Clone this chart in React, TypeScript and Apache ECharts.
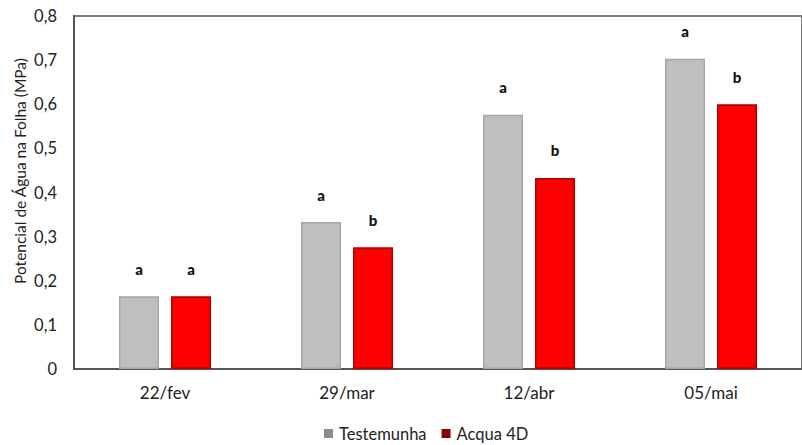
import React, { useEffect, useRef } from "react";
import * as echarts from "echarts";

const categories = ["22/fev", "29/mar", "12/abr", "05/mai"];
const testemunha = [0.165, 0.333, 0.576, 0.703];
const acqua4d = [0.165, 0.276, 0.433, 0.6];
const testemunhaLetters = ["a", "a", "a", "a"];
const acquaLetters = ["a", "b", "b", "b"];
const yTicks = [0, 0.1, 0.2, 0.3, 0.4, 0.5, 0.6, 0.7, 0.8];
const yTitle = "Potencial de Água na Folha (MPa)";

const FONT = "Lato, 'Open Sans', sans-serif";

export default function App() {
  const ref = useRef<HTMLDivElement>(null);

  useEffect(() => {
    if (!ref.current) return;
    const chart = echarts.init(ref.current, undefined, { renderer: "svg" });

    const letterLabel = (letters: string[]) => ({
      show: true,
      position: "top" as const,
      distance: 20,
      formatter: (p: any) => letters[p.dataIndex],
      fontFamily: FONT,
      fontWeight: 900,
      fontSize: 15,
      color: "#111",
    });

    chart.setOption({
      animation: false,
      backgroundColor: "#fff",
      textStyle: { fontFamily: FONT },
      grid: {
        left: 74,
        right: 0,
        top: 16,
        bottom: 76,
        show: true,
        borderColor: "#7a7a7a",
        borderWidth: 2,
      },
      graphic: [
        {
          type: "text",
          x: 20,
          y: 171,
          rotation: Math.PI / 2,
          style: {
            text: yTitle,
            fontFamily: FONT,
            fontSize: 15.5,
            fill: "#222",
            align: "center",
            verticalAlign: "middle",
          },
        },
      ],
      legend: {
        top: 425,
        left: 324,
        padding: 0,
        itemWidth: 9,
        itemHeight: 9,
        itemGap: 15,
        icon: "rect",
        textStyle: { fontFamily: FONT, fontSize: 16.5, color: "#222", padding: [0, 0, 0, 1] },
        data: [
          { name: "Testemunha", itemStyle: { color: "#8c8c8c", borderWidth: 0 } },
          { name: "Acqua 4D", itemStyle: { color: "#8b0000", borderWidth: 0 } },
        ],
      },
      xAxis: {
        type: "category",
        data: categories,
        axisLine: { lineStyle: { color: "#555", width: 2 } },
        axisTick: { show: false },
        axisLabel: { fontFamily: FONT, fontSize: 17, color: "#222", margin: 15 },
      },
      yAxis: {
        type: "value",
        min: 0,
        max: 0.8,
        interval: 0.1,
        axisLine: { show: true, lineStyle: { color: "#555", width: 2 } },
        axisTick: { show: false },
        splitLine: { show: false },
        axisLabel: {
          fontFamily: FONT,
          fontSize: 16.5,
          color: "#222",
          margin: 17,
          formatter: (v: number) => {
            const t = yTicks.find((x) => Math.abs(x - v) < 1e-9);
            const val = t === undefined ? v : t;
            return val === 0 ? "0" : val.toFixed(1).replace(".", ",");
          },
        },
      },
      series: [
        {
          name: "Testemunha",
          type: "bar",
          data: testemunha,
          barWidth: "22%",
          barGap: "30%",
          itemStyle: { color: "#bfbfbf", borderColor: "#a6a6a6", borderWidth: 1.5 },
          label: letterLabel(testemunhaLetters),
        },
        {
          name: "Acqua 4D",
          type: "bar",
          data: acqua4d,
          barWidth: "22%",
          itemStyle: { color: "#ff0000", borderColor: "#b00000", borderWidth: 1.5 },
          label: letterLabel(acquaLetters),
        },
      ],
    });

    return () => chart.dispose();
  }, []);

  return (
    <div
      ref={ref}
      style={{ width: 802, height: 445, position: "fixed", left: 0, top: 0 }}
    />
  );
}
